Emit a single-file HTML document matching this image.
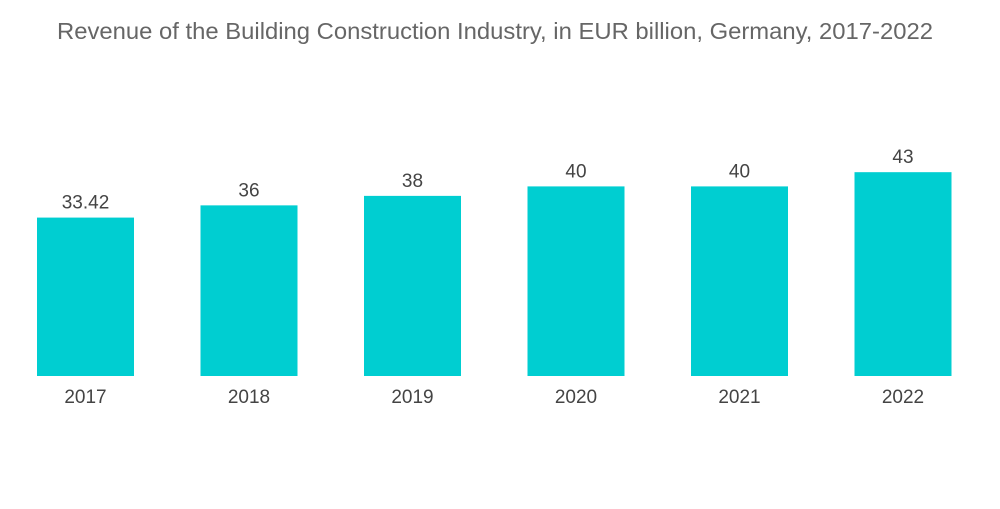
<!DOCTYPE html>
<html><head><meta charset="utf-8"><style>
body{margin:0;background:#fff;width:1000px;height:504px;overflow:hidden;font-family:"Liberation Sans",sans-serif}
</style></head><body>
<svg id="chart" width="1000" height="504">
<text x="495" y="39" text-anchor="middle" font-size="23" textLength="876" lengthAdjust="spacingAndGlyphs" fill="#666">Revenue of the Building Construction Industry, in EUR billion, Germany, 2017-2022</text>
<g id="bars"></g>
</svg>
<script>
const categories=["2017","2018","2019","2020","2021","2022"];
const values=[33.42,36,38,40,40,43];
const valueLabels=["33.42","36","38","40","40","43"];
const baseY=376, pxPerUnit=4.74, x0=37, step=163.5, bw=97;
const y=v=>baseY-v*pxPerUnit;
const g=document.getElementById('bars');
const ns="http://www.w3.org/2000/svg";
categories.forEach((c,i)=>{
  const x=x0+i*step;
  const r=document.createElementNS(ns,'rect');
  r.setAttribute('x',x);r.setAttribute('y',y(values[i]));
  r.setAttribute('width',bw);r.setAttribute('height',baseY-y(values[i]));
  r.setAttribute('fill','#00ced1');
  
  
  g.appendChild(r);
  const t=document.createElementNS(ns,'text');
  t.setAttribute('x',x+bw/2);t.setAttribute('y',y(values[i])-9);
  t.setAttribute('text-anchor','middle');t.setAttribute('font-size','19');t.setAttribute('fill','#444');
  t.textContent=valueLabels[i];
  
  
  g.appendChild(t);
  const l=document.createElementNS(ns,'text');
  l.setAttribute('x',x+bw/2);l.setAttribute('y',403);
  l.setAttribute('text-anchor','middle');l.setAttribute('font-size','19');l.setAttribute('fill','#444');
  l.textContent=c;
  
  
  g.appendChild(l);
});
</script>
</body></html>
